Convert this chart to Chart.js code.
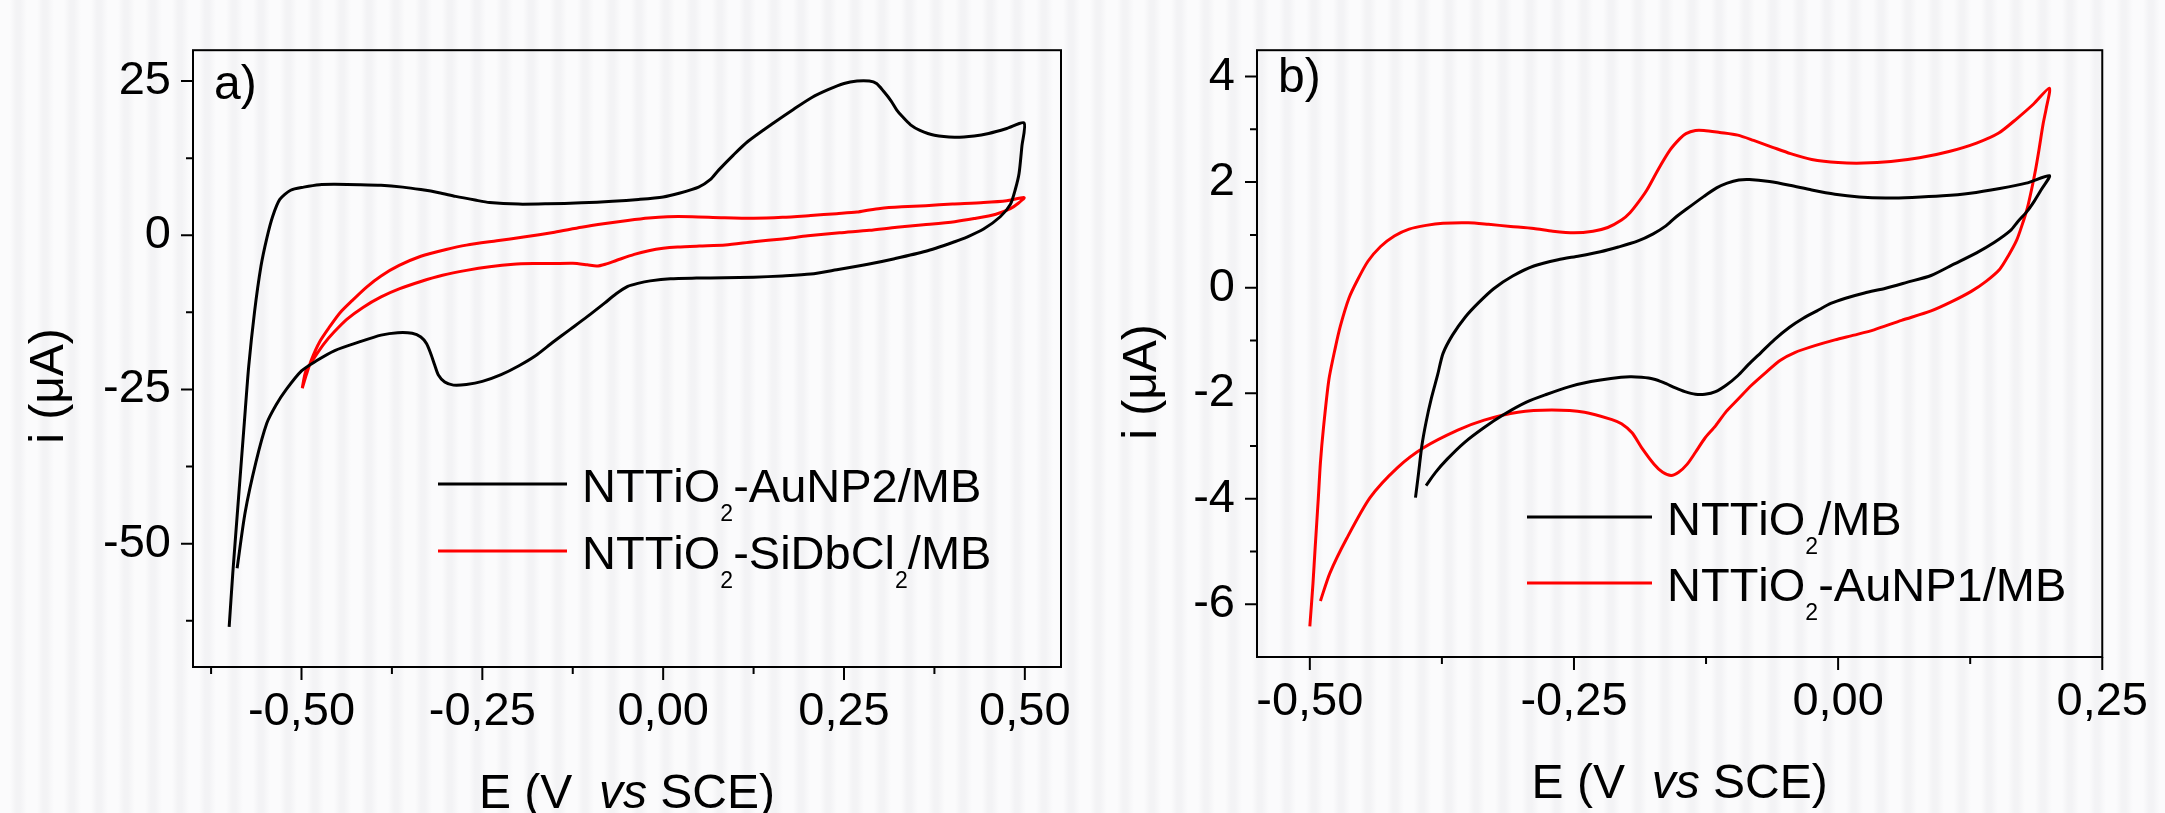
<!DOCTYPE html>
<html>
<head>
<meta charset="utf-8">
<script src="https://cdn.jsdelivr.net/npm/chart.js@4/dist/chart.umd.min.js"></script>
<style>
  html, body { margin: 0; padding: 0; }
  body {
    width: 2165px; height: 813px; overflow: hidden; position: relative;
    background: repeating-linear-gradient(90deg, #fbfbfc 0px, #fbfbfc 10px, #f3f3f5 16px, #f3f3f5 20px, #fbfbfc 27px);
  }
  .panel { position: absolute; top: 0; height: 813px; }
  #pa { left: 0; width: 1100px; }
  #pb { left: 1100px; width: 1065px; }
</style>
</head>
<body>
<div class="panel" id="pa"><canvas id="ca" width="1100" height="813"></canvas></div>
<div class="panel" id="pb"><canvas id="cb" width="1065" height="813"></canvas></div>
<script>
// panel a) NTTiO2-AuNP2/MB (black)
const aAuNP2E = [-0.600, -0.595, -0.587, -0.579, -0.573, -0.565, -0.556, -0.548, -0.540, -0.530, -0.515, -0.497, -0.475, -0.454, -0.420, -0.390, -0.360, -0.335, -0.310, -0.287, -0.260, -0.240, -0.200, -0.160, -0.113, -0.070, -0.034, 0.000, 0.022, 0.049, 0.065, 0.077, 0.097, 0.117, 0.150, 0.180, 0.205, 0.228, 0.250, 0.268, 0.285, 0.295, 0.305, 0.315, 0.323, 0.331, 0.342, 0.355, 0.375, 0.403, 0.430, 0.450, 0.475, 0.499,
  0.496, 0.492, 0.487, 0.480, 0.466, 0.443, 0.420, 0.403, 0.363, 0.320, 0.283, 0.240, 0.204, 0.165, 0.125, 0.085, 0.046, 0.010, -0.018, -0.035, -0.049, -0.065, -0.081, -0.105, -0.129, -0.153, -0.176, -0.200, -0.224, -0.250, -0.272, -0.290, -0.302, -0.311, -0.316, -0.321, -0.327, -0.335, -0.347, -0.367, -0.390, -0.420, -0.454, -0.480, -0.500, -0.521, -0.535, -0.548, -0.563, -0.578, -0.589];
const aAuNP2I = [-63.5, -54.8, -42.5, -30.3, -21.3, -12.5, -5.0, -0.5, 3.0, 5.8, 7.3, 7.8, 8.2, 8.25, 8.2, 8.1, 7.8, 7.4, 6.9, 6.3, 5.7, 5.3, 5.05, 5.1, 5.25, 5.5, 5.8, 6.2, 6.8, 7.8, 9.0, 10.6, 13.0, 15.2, 18.0, 20.4, 22.3, 23.6, 24.6, 25.0, 25.0, 24.6, 23.3, 21.8, 20.3, 19.2, 17.9, 17.0, 16.2, 15.9, 16.1, 16.5, 17.3, 18.2,
  14.5, 10.0, 7.5, 5.0, 3.0, 1.0, -0.3, -1.05, -2.6, -3.8, -4.7, -5.6, -6.3, -6.6, -6.8, -6.9, -6.95, -7.05, -7.4, -7.8, -8.3, -9.5, -11.0, -13.2, -15.3, -17.4, -19.5, -21.2, -22.6, -23.7, -24.2, -24.3, -23.8, -22.6, -21.0, -19.3, -17.6, -16.5, -15.9, -15.8, -16.2, -17.3, -18.7, -20.4, -22.0, -25.0, -27.5, -30.5, -36.8, -45.0, -54.0];

// panel a) NTTiO2-SiDbCl2/MB (red)
const aSiE = [-0.499, -0.493, -0.486, -0.475, -0.462, -0.447, -0.430, -0.410, -0.390, -0.365, -0.335, -0.300, -0.272, -0.230, -0.193, -0.150, -0.113, -0.080, -0.049, -0.020, 0.006, 0.040, 0.080, 0.125, 0.165, 0.204, 0.240, 0.268, 0.285, 0.300, 0.330, 0.363, 0.400, 0.443, 0.475, 0.499,
  0.490, 0.480, 0.460, 0.430, 0.403, 0.360, 0.323, 0.285, 0.244, 0.200, 0.165, 0.125, 0.086, 0.050, 0.020, 0.000, -0.020, -0.040, -0.065, -0.080, -0.092, -0.105, -0.125, -0.153, -0.180, -0.207, -0.240, -0.272, -0.305, -0.335, -0.365, -0.390, -0.415, -0.437, -0.455, -0.469, -0.482, -0.494, -0.499];
const aSiI = [-24.8, -22.5, -20.1, -17.3, -15.0, -12.6, -10.6, -8.4, -6.6, -4.9, -3.4, -2.3, -1.6, -0.9, -0.3, 0.5, 1.3, 1.9, 2.4, 2.8, 3.0, 3.0, 2.85, 2.75, 2.9, 3.2, 3.5, 3.75, 4.1, 4.35, 4.6, 4.8, 5.05, 5.3, 5.6, 6.1,
  5.1, 4.3, 3.4, 2.7, 2.2, 1.7, 1.3, 0.8, 0.4, -0.1, -0.6, -1.05, -1.6, -1.75, -1.9, -2.1, -2.5, -3.1, -4.1, -4.7, -5.0, -4.8, -4.55, -4.6, -4.6, -4.7, -5.1, -5.7, -6.5, -7.5, -8.7, -10.0, -11.7, -13.6, -15.7, -17.6, -19.8, -22.0, -24.8];

// panel b) NTTiO2/MB (black)
const bBareE = [-0.400, -0.397, -0.394, -0.390, -0.385, -0.379, -0.374, -0.365, -0.353, -0.340, -0.326, -0.308, -0.288, -0.265, -0.245, -0.225, -0.208, -0.190, -0.175, -0.163, -0.154, -0.140, -0.127, -0.115, -0.105, -0.094, -0.084, -0.065, -0.046, -0.025, -0.003, 0.020, 0.045, 0.070, 0.099, 0.125, 0.153, 0.178, 0.200,
  0.193, 0.186, 0.179, 0.170, 0.163, 0.148, 0.131, 0.110, 0.088, 0.065, 0.045, 0.025, 0.007, -0.007, -0.020, -0.033, -0.046, -0.060, -0.073, -0.085, -0.095, -0.106, -0.116, -0.126, -0.135, -0.145, -0.154, -0.165, -0.175, -0.186, -0.197, -0.215, -0.234, -0.255, -0.277, -0.295, -0.316, -0.335, -0.354, -0.370, -0.381, -0.390];
const bBareI = [-3.98, -3.5, -3.0, -2.55, -2.1, -1.65, -1.25, -0.9, -0.56, -0.28, -0.02, 0.22, 0.41, 0.53, 0.60, 0.68, 0.77, 0.88, 1.02, 1.17, 1.33, 1.54, 1.73, 1.89, 1.98, 2.04, 2.05, 2.01, 1.94, 1.85, 1.77, 1.72, 1.70, 1.71, 1.74, 1.79, 1.88, 1.98, 2.12,
  1.88, 1.65, 1.45, 1.25, 1.08, 0.86, 0.66, 0.45, 0.23, 0.10, -0.01, -0.10, -0.20, -0.30, -0.44, -0.58, -0.75, -0.98, -1.23, -1.46, -1.67, -1.85, -1.97, -2.02, -2.02, -1.97, -1.90, -1.80, -1.73, -1.70, -1.69, -1.72, -1.78, -1.88, -2.03, -2.17, -2.40, -2.65, -2.94, -3.25, -3.50, -3.75];

// panel b) NTTiO2-AuNP1/MB (red)
const bAuNP1E = [-0.500, -0.497, -0.495, -0.492, -0.490, -0.487, -0.482, -0.476, -0.471, -0.463, -0.455, -0.445, -0.433, -0.420, -0.406, -0.390, -0.374, -0.350, -0.331, -0.310, -0.288, -0.270, -0.250, -0.232, -0.218, -0.205, -0.197, -0.189, -0.181, -0.170, -0.159, -0.150, -0.144, -0.135, -0.127, -0.112, -0.095, -0.080, -0.062, -0.045, -0.025, 0.000, 0.024, 0.050, 0.077, 0.105, 0.131, 0.152, 0.169, 0.185, 0.200,
  0.197, 0.194, 0.190, 0.187, 0.183, 0.179, 0.174, 0.169, 0.161, 0.153, 0.140, 0.126, 0.108, 0.088, 0.060, 0.034, 0.015, -0.003, -0.022, -0.041, -0.055, -0.068, -0.082, -0.095, -0.106, -0.116, -0.126, -0.135, -0.143, -0.151, -0.158, -0.166, -0.174, -0.186, -0.195, -0.205, -0.214, -0.240, -0.271, -0.303, -0.335, -0.360, -0.392, -0.417, -0.443, -0.465, -0.481, -0.490];
const bAuNP1I = [-6.42, -5.6, -4.94, -4.0, -3.32, -2.64, -1.75, -1.15, -0.72, -0.2, 0.14, 0.50, 0.78, 0.98, 1.11, 1.18, 1.22, 1.23, 1.20, 1.16, 1.12, 1.07, 1.04, 1.07, 1.14, 1.28, 1.42, 1.62, 1.85, 2.25, 2.61, 2.82, 2.92, 2.98, 2.98, 2.94, 2.89, 2.79, 2.66, 2.54, 2.43, 2.37, 2.36, 2.39, 2.46, 2.58, 2.74, 2.93, 3.20, 3.48, 3.78,
  3.40, 3.10, 2.60, 2.25, 1.85, 1.50, 1.18, 0.90, 0.60, 0.35, 0.12, -0.07, -0.26, -0.44, -0.62, -0.80, -0.90, -0.99, -1.10, -1.23, -1.38, -1.60, -1.85, -2.12, -2.35, -2.62, -2.85, -3.12, -3.35, -3.50, -3.56, -3.50, -3.35, -3.03, -2.75, -2.58, -2.50, -2.36, -2.32, -2.36, -2.51, -2.70, -3.03, -3.41, -3.98, -4.75, -5.41, -5.94];

// axes
const aXTicks = [-0.5, -0.25, 0, 0.25, 0.5];
const aXMinor = [-0.625, -0.375, -0.125, 0.125, 0.375];
const aYTicks = [25, 0, -25, -50];
const aYMinor = [12.5, -12.5, -37.5, -62.5];
const bXTicks = [-0.5, -0.25, 0, 0.25];
const bXMinor = [-0.375, -0.125, 0.125];
const bYTicks = [4, 2, 0, -2, -4, -6];
const bYMinor = [3, 1, -1, -3, -5];

const aLabels = ['NTTiO₂-AuNP2/MB', 'NTTiO₂-SiDbCl₂/MB'];
const bLabels = ['NTTiO₂/MB', 'NTTiO₂-AuNP1/MB'];

const FONT = "'Liberation Sans', Arial, sans-serif";

function pts(xs, ys) {
    return xs.map((x, i) => ({ x: x, y: ys[i] }));
}

// writes text, turning ₂ into a small lowered 2
function subText(ctx, str, x, y) {
    for (const ch of str) {
        if (ch == '₂') {
            ctx.font = '23px ' + FONT;
            ctx.fillText('2', x, y + 19);
            x += ctx.measureText('2').width;
        } else {
            ctx.font = '47px ' + FONT;
            ctx.fillText(ch, x, y);
            x += ctx.measureText(ch).width;
        }
    }
}

const decor = {
    id: 'decor',
    afterDraw(chart, args, o) {
        const ctx = chart.ctx;
        const a = chart.chartArea;
        const xs = chart.scales.x, ys = chart.scales.y;
        ctx.save();
        ctx.strokeStyle = '#000';
        ctx.fillStyle = '#000';
        ctx.lineWidth = 2;
        ctx.strokeRect(a.left, a.top, a.right - a.left, a.bottom - a.top);

        // ticks, major and minor
        ctx.beginPath();
        o.xMajor.forEach(v => { const p = xs.getPixelForValue(v); ctx.moveTo(p, a.bottom); ctx.lineTo(p, a.bottom + 13); });
        o.xMinor.forEach(v => { const p = xs.getPixelForValue(v); ctx.moveTo(p, a.bottom); ctx.lineTo(p, a.bottom + 7); });
        o.yMajor.forEach(v => { const p = ys.getPixelForValue(v); ctx.moveTo(a.left, p); ctx.lineTo(a.left - 12, p); });
        o.yMinor.forEach(v => { const p = ys.getPixelForValue(v); ctx.moveTo(a.left, p); ctx.lineTo(a.left - 7, p); });
        ctx.stroke();

        ctx.textAlign = 'left';
        ctx.textBaseline = 'alphabetic';

        // panel letter
        ctx.font = '48px ' + FONT;
        ctx.fillText(o.letter, a.left + 21, o.letterY);

        // x title, "vs" in italics
        const n = '48px ' + FONT, it = 'italic 48px ' + FONT;
        ctx.font = n;
        const w1 = ctx.measureText('E (V  ').width, w3 = ctx.measureText(' SCE)').width;
        ctx.font = it;
        const w2 = ctx.measureText('vs').width;
        let x = (a.left + a.right) / 2 - (w1 + w2 + w3) / 2;
        ctx.font = n; ctx.fillText('E (V  ', x, o.xTitleY);
        ctx.font = it; ctx.fillText('vs', x + w1, o.xTitleY);
        ctx.font = n; ctx.fillText(' SCE)', x + w1 + w2, o.xTitleY);

        // y title
        ctx.save();
        ctx.translate(o.yTitleX, o.yTitleY);
        ctx.rotate(-Math.PI / 2);
        ctx.textAlign = 'center';
        ctx.font = n;
        ctx.fillText('i (μA)', 0, 0);
        ctx.restore();

        // legend
        const L = o.legend;
        chart.data.datasets.forEach((ds, i) => {
            const y = L.y + i * L.rowH;
            ctx.strokeStyle = ds.borderColor;
            ctx.lineWidth = 3;
            ctx.beginPath();
            ctx.moveTo(L.x, y);
            ctx.lineTo(L.x + L.len, y);
            ctx.stroke();
            ctx.fillStyle = '#000';
            subText(ctx, ds.label, L.x + L.len + 15, y + 18);
        });
        ctx.restore();
    }
};

function makeChart(id, c) {
    return new Chart(document.getElementById(id), {
        type: 'scatter',
        data: {
            datasets: c.sets.map(s => ({
                label: s.label,
                data: pts(s.xs, s.ys),
                showLine: true,
                borderColor: s.color,
                backgroundColor: s.color,
                borderWidth: 3,
                pointRadius: 0,
                tension: 0.25
            }))
        },
        options: {
            responsive: false,
            animation: false,
            layout: { padding: { left: 0, right: c.padRight, top: c.padTop, bottom: 0 } },
            plugins: {
                legend: { display: false },
                tooltip: { enabled: false },
                decor: c.decor
            },
            scales: {
                x: {
                    type: 'linear', min: c.xMin, max: c.xMax,
                    afterFit: s => { s.height = c.xAxisH; },
                    afterBuildTicks: s => { s.ticks = c.decor.xMajor.map(v => ({ value: v })); },
                    grid: { display: false, drawTicks: false },
                    border: { display: false },
                    ticks: {
                        padding: 17, color: '#000', maxRotation: 0, autoSkip: false,
                        font: { family: FONT, size: 47 },
                        callback: v => v.toFixed(2).replace('.', ',')
                    }
                },
                y: {
                    type: 'linear', min: c.yMin, max: c.yMax,
                    afterFit: s => { s.width = c.yAxisW; },
                    afterBuildTicks: s => { s.ticks = c.decor.yMajor.map(v => ({ value: v })); },
                    grid: { display: false, drawTicks: false },
                    border: { display: false },
                    ticks: {
                        padding: 22, color: '#000', autoSkip: false,
                        font: { family: FONT, size: 47 },
                        callback: v => String(v)
                    }
                }
            }
        },
        plugins: [decor]
    });
}

makeChart('ca', {
    sets: [
        { label: aLabels[0], xs: aAuNP2E, ys: aAuNP2I, color: '#000000' },
        { label: aLabels[1], xs: aSiE, ys: aSiI, color: '#ff0000' }
    ],
    xMin: -0.65, xMax: 0.55, yMin: -70, yMax: 30,
    padRight: 39, padTop: 34, yAxisW: 193, xAxisH: 146,
    decor: {
        xMajor: aXTicks, xMinor: aXMinor, yMajor: aYTicks, yMinor: aYMinor,
        letter: 'a)', letterY: 99,
        xTitleY: 808, yTitleX: 63, yTitleY: 386,
        legend: { x: 438, y: 484, len: 129, rowH: 67 }
    }
});

makeChart('cb', {
    sets: [
        { label: bLabels[0], xs: bBareE, ys: bBareI, color: '#000000' },
        { label: bLabels[1], xs: bAuNP1E, ys: bAuNP1I, color: '#ff0000' }
    ],
    xMin: -0.55, xMax: 0.25, yMin: -7, yMax: 4.5,
    padRight: 53, padTop: 32, yAxisW: 157, xAxisH: 156,
    decor: {
        xMajor: bXTicks, xMinor: bXMinor, yMajor: bYTicks, yMinor: bYMinor,
        letter: 'b)', letterY: 92,
        xTitleY: 798, yTitleX: 56, yTitleY: 382,
        legend: { x: 427, y: 517, len: 125, rowH: 66 }
    }
});
</script>
</body>
</html>
